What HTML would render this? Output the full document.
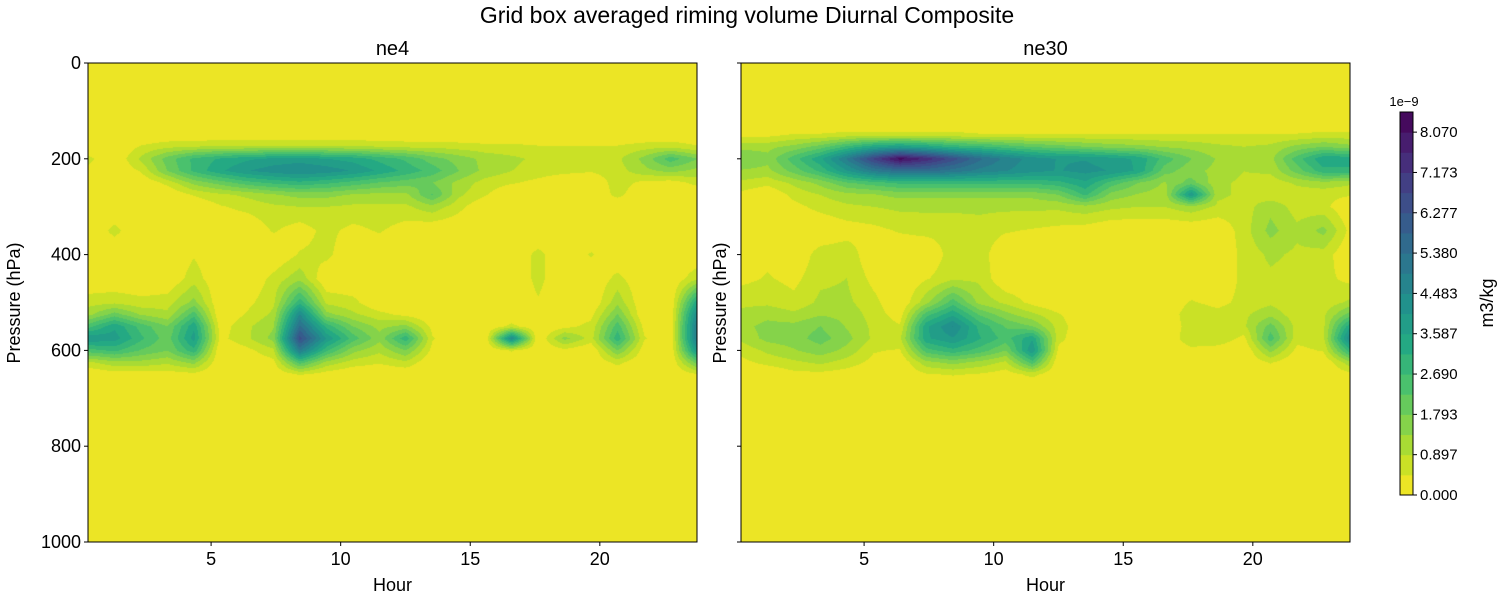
<!DOCTYPE html>
<html><head><meta charset="utf-8">
<style>
html,body{margin:0;padding:0;background:#fff;}
#root{position:relative;width:1500px;height:600px;overflow:hidden;font-family:"Liberation Sans",sans-serif;}
canvas{position:absolute;}
svg{position:absolute;left:0;top:0;}
</style></head>
<body>
<div id="root">
<canvas id="c1" width="609" height="479" style="left:88px;top:63px"></canvas>
<canvas id="c2" width="609" height="479" style="left:741px;top:63px"></canvas>
<svg id="s" width="1500" height="600"></svg>
</div>
<script>
// ---- data (units 1e-9 m3/kg) ----
const hourStart = 0.25;
const hourEnd = 23.75;
const pressureLevels = [150,175,200,225,250,275,300,350,400,450,500,525,550,575,600,625,650];
const levelStep = 0.4483;
const nLevels = 19;
const cbarTicks = [0.000,0.897,1.793,2.690,3.587,4.483,5.380,6.277,7.173,8.070];
const xTicks = [5,10,15,20];
const yTicks = [0,200,400,600,800,1000];
const ne4 = [
[0,0,0,0,0,0,0,0,0,0,0,0,0,0,0,0,0,0,0,0,0,0,0,0],
[0,0,0.5,0.8,0.9,1,1,1,1,1,1,0.9,0.8,0.8,0.7,0.6,0.6,0.5,0.5,0.5,0.5,0.7,0.8,0.5],
[0.6,0,1.0,2.0,2.8,3.2,3.5,3.7,3.8,3.6,3.4,3.0,2.6,2.0,1.6,1.2,1.0,0.8,0.7,0.6,0.8,1.5,2.5,1.8],
[0.3,0,0.5,1.8,2.8,3.5,4.0,4.3,4.5,4.3,4.0,3.5,3.0,2.5,1.8,1.2,0.9,0.7,0.6,0.5,0.7,1.2,1.5,1.2],
[0,0,0,0.6,1.5,2.0,2.5,2.8,3.0,2.8,2.5,2.2,2.0,1.8,1.2,0.7,0.5,0.3,0,0,0.7,0.3,0.2,0.6],
[0,0,0,0,0.5,0.8,1.0,1.3,1.5,1.5,1.3,1.2,1.2,2.3,1.0,0.5,0,0,0,0,0.6,0,0,0],
[0,0,0,0,0,0.4,0.6,0.8,0.9,0.9,0.8,0.8,0.8,1.2,0.6,0,0,0,0,0,0,0,0,0],
[0,0.6,0,0,0,0,0,0.5,0.2,0.6,0.3,0.5,0.2,0,0,0,0,0,0,0,0,0,0,0],
[0,0,0,0,0.4,0,0,0,0.5,0.6,0,0,0,0,0,0,0,0.6,0,0.5,0,0,0,0],
[0,0,0,0,0.7,0,0,0.6,1.2,0,0,0,0,0,0,0,0,0.6,0,0,0.6,0,0,0.8],
[0.7,0.8,0.6,0.7,1.5,0,0.3,0.8,3.0,0.8,0.6,0,0,0,0,0,0,0.4,0,0,1.2,0,0,3.5],
[1.2,2.0,1.3,1.0,2.5,0,0.5,1.0,4.5,1.5,1.0,0.6,0.3,0,0,0,0,0,0,0.3,1.8,0,0,4.5],
[2.5,3.5,2.5,1.8,3.5,0.2,0.8,1.3,5.5,3.0,1.8,1.2,1.5,0.3,0,0,0.6,0,0.3,0.6,2.5,0.3,0,5.0],
[4.0,3.8,2.8,2.0,3.8,0.3,0.8,1.5,6.5,4.0,2.5,1.5,3.0,0.5,0,0,4.5,0,1.5,0.7,3.0,0.5,0,5.0],
[2.5,2.8,2.2,1.8,3.0,0,0.3,0.8,5.0,2.8,1.5,1.0,1.8,0.3,0,0,0.5,0,0.3,0,1.8,0.2,0,4.0],
[0.8,1.2,1.2,1.0,1.5,0,0,0.3,2.5,1.2,0.7,0.5,0.8,0,0,0,0,0,0,0,0.6,0,0,2.0],
[0,0.2,0.2,0.2,0.3,0,0,0,0.5,0.2,0,0,0,0,0,0,0,0,0,0,0,0,0,0.4]
];
const ne30 = [
[0.3,0.3,0.5,0.5,0.6,0.6,0.6,0.6,0.6,0.5,0.5,0.5,0.5,0.5,0.5,0.5,0.5,0.5,0.5,0.5,0.5,0.5,0.6,0.6],
[1.2,1.2,1.5,2.0,2.8,3.5,3.8,3.5,3.0,2.8,2.5,2.2,2.0,1.8,1.6,1.5,1.3,1.2,1.0,0.9,1.0,1.5,1.8,1.5],
[1.8,1.5,2.5,3.5,5.0,6.8,8.3,7.5,6.5,5.5,4.8,4.3,4.0,4.0,3.8,3.5,2.5,1.8,1.3,1.0,1.2,2.5,3.5,3.5],
[1.3,1.2,2.0,2.8,4.0,5.0,5.5,5.5,5.2,4.8,4.5,4.2,4.0,4.2,4.0,3.5,2.0,1.5,1.2,0.9,1.0,2.0,3.0,3.0],
[0.8,0.6,1.0,1.5,2.2,2.5,2.8,2.8,2.8,2.8,2.8,2.8,3.0,3.5,2.5,1.8,1.3,2.0,1.0,0.8,0.6,1.0,1.2,1.0],
[0.3,0,0.6,0.9,1.2,1.3,1.5,1.5,1.5,1.5,1.5,1.5,1.8,2.8,1.6,1.3,1.1,4.0,1.0,0.8,0.6,0.6,0.6,0.5],
[0,0,0.3,0.6,0.8,0.9,1.0,1.0,1.0,1.0,1.0,1.0,1.0,1.2,1.0,0.9,0.9,1.2,0.8,0.7,1.2,0.7,0.6,0],
[0,0,0,0,0.2,0.3,0.5,0.6,0.6,0.7,0.5,0.4,0.3,0.2,0,0,0,0,0,0.7,1.5,1.0,1.5,0.3],
[0,0.3,0,0.7,0.8,0,0,0,0.7,0.7,0,0,0,0,0,0,0,0,0,0.6,1.0,0.8,0.7,0],
[0.3,0.5,0.3,0.8,0.9,0.3,0,0.4,0.8,0.8,0,0,0,0,0,0,0,0,0,0.6,0.8,0.7,0.6,0.3],
[0.8,0.8,0.6,1.0,1.0,0.6,0,1.2,2.5,1.2,0.8,0.3,0,0,0,0,0,0.5,0.3,0.6,0.8,0.5,0.6,1.0],
[1.0,1.2,1.0,1.3,1.2,0.7,0.2,2.5,3.5,2.2,1.5,1.0,0.5,0,0,0,0,0.8,0.6,0.8,1.2,0.6,0.8,2.0],
[1.2,1.5,1.5,1.8,1.3,0.8,0.5,3.5,4.5,3.0,2.2,1.8,0.7,0,0,0,0,0.7,0.7,0.8,2.0,0.7,0.8,3.5],
[1.0,1.5,1.6,2.0,1.5,0.8,0.8,3.5,4.0,3.2,2.5,3.5,0.6,0,0,0,0,0.8,0.8,0.3,2.5,0.6,0.8,4.5],
[0.6,1.0,1.3,1.6,1.2,0.5,0.4,2.5,3.0,2.5,1.8,4.0,0.3,0,0,0,0,0.3,0.2,0,1.5,0.3,0.5,3.0],
[0.3,0.6,0.8,1.0,0.7,0.3,0,1.2,1.5,1.2,0.8,2.5,0,0,0,0,0,0,0,0,0.5,0,0,1.2],
[0,0,0.3,0.3,0.2,0,0,0.4,0.5,0.4,0.2,0.6,0,0,0,0,0,0,0,0,0,0,0,0.3]
];

const VIR = [[68,1,84],[72,36,117],[65,68,135],[53,95,141],[42,120,142],[33,145,140],[34,168,132],[68,191,112],[122,209,81],[189,223,38],[253,231,37]];
function viridis(t){t=Math.max(0,Math.min(1,t));const f=t*10,i=Math.min(9,Math.floor(f)),r=f-i;
 return VIR[i].map((c,k)=>Math.round(c+(VIR[i+1][k]-c)*r));}
function levelColor(k){return viridis(1-(k+0.5)/nLevels);}

const W=609,H=479;
function xOfHour(h,x0){return x0+(h-hourStart)/(hourEnd-hourStart)*W;}
function yOfP(p){return 63+p/1000*H;}

function sample(grid,h,p){
 const nc=grid[0].length;
 const ci=(h-hourStart)/(hourEnd-hourStart)*(nc-1);
 const c0=Math.max(0,Math.min(nc-2,Math.floor(ci))), cr=Math.max(0,Math.min(1,ci-c0));
 const P=pressureLevels; let rr,r0;
 const ext=[P[0]-25].concat(P,[P[P.length-1]+25]);
 const rows=[new Array(nc).fill(0)].concat(grid,[new Array(nc).fill(0)]);
 if(p<=ext[0]||p>=ext[ext.length-1])return 0;
 r0=0;while(r0<ext.length-2&&ext[r0+1]<=p)r0++;
 rr=(p-ext[r0])/(ext[r0+1]-ext[r0]);
 const a=rows[r0][c0]*(1-cr)+rows[r0][c0+1]*cr;
 const b=rows[r0+1][c0]*(1-cr)+rows[r0+1][c0+1]*cr;
 return a*(1-rr)+b*rr;
}
function drawField(id,grid){
 const cv=document.getElementById(id),ctx=cv.getContext('2d');
 const img=ctx.createImageData(W,H);
 for(let y=0;y<H;y++){const p=(y+0.5)/H*1000;
  for(let x=0;x<W;x++){const h=hourStart+(x+0.5)/W*(hourEnd-hourStart);
   const v=sample(grid,h,p);let k=Math.floor(v/levelStep);k=Math.max(0,Math.min(nLevels-1,k));
   const c=levelColor(k),o=(y*W+x)*4;img.data[o]=c[0];img.data[o+1]=c[1];img.data[o+2]=c[2];img.data[o+3]=255;}}
 ctx.putImageData(img,0,0);
}
drawField('c1',ne4);drawField('c2',ne30);

const svg=document.getElementById('s');const NS='http://www.w3.org/2000/svg';
function el(tag,attrs,txt){const e=document.createElementNS(NS,tag);for(const k in attrs)e.setAttribute(k,attrs[k]);if(txt!==undefined)e.textContent=txt;svg.appendChild(e);return e;}
let t;
t=el('text',{x:747,y:23,'font-size':23,'text-anchor':'middle',fill:'#000'},'Grid box averaged riming volume Diurnal Composite');


[[88,'ne4','left'],[741,'ne30','right']].forEach(([x0,name,side])=>{
 let r=el('rect',{x:x0,y:63,width:W,height:H,fill:'none',stroke:'#000','stroke-width':1});
 
 
 let tt=el('text',{x:x0+W/2,y:55,'font-size':20,'text-anchor':'middle'},name);
 
 
 xTicks.forEach(h=>{const x=xOfHour(h,x0);
  el('line',{x1:x,x2:x,y1:542,y2:546,stroke:'#000'});
  let l=el('text',{x:x,y:565,'font-size':18,'text-anchor':'middle'},String(h));
  
  });
 yTicks.forEach(p=>{const y=yOfP(p);
  el('line',{x1:x0-4,x2:x0,y1:y,y2:y,stroke:'#000'});
  if(side==='left'){let l=el('text',{x:x0-7,y:y+6,'font-size':18,'text-anchor':'end'},String(p));
   
   }});
 let xl=el('text',{x:x0+W/2,y:591,'font-size':18,'text-anchor':'middle'},'Hour');
 
 
 const yx=side==='left'?20:726;
 let yl=el('text',{x:yx,y:303,'font-size':18,'text-anchor':'middle',transform:`rotate(-90 ${yx} 303)`},'Pressure (hPa)');
 
 
});
// colorbar
const cbX=1400,cbTop=112,cbBot=495,cbH=cbBot-cbTop,cbMax=levelStep*nLevels;
for(let k=0;k<nLevels;k++){const c=levelColor(k);
 const y1=cbBot-(k+1)*levelStep/cbMax*cbH;
 let r=el('rect',{x:cbX,y:y1,width:13,height:cbH/nLevels+0.5,fill:`rgb(${c[0]},${c[1]},${c[2]})`});
 
 }
el('rect',{x:cbX,y:cbTop,width:13,height:cbH,fill:'none',stroke:'#000','stroke-width':1});
cbarTicks.forEach(v=>{const y=cbBot-v/cbMax*cbH;
 el('line',{x1:cbX+13,x2:cbX+17,y1:y,y2:y,stroke:'#000'});
 let l=el('text',{x:cbX+20,y:y+5,'font-size':15},v.toFixed(3));
 
 });
t=el('text',{x:1404,y:106,'font-size':13,'text-anchor':'middle'},'1e\u22129');


t=el('text',{x:1493,y:303,'font-size':18,'text-anchor':'middle',transform:'rotate(-90 1493 303)'},'m3/kg');


</script>
</body></html>
